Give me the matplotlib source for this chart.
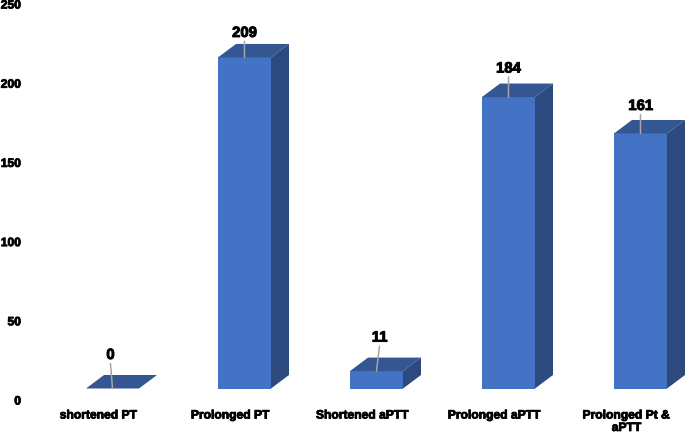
import matplotlib
matplotlib.use("Agg")
import matplotlib.pyplot as plt
import matplotlib.patches as mpatches
import matplotlib.transforms as mtrans
import matplotlib.patheffects as pe

FRONT = "#4472C4"
TOP = "#345693"
SIDE = "#2C4A7E"
LEADER = "#A6A6A6"

categories = ["shortened PT", "Prolonged PT", "Shortened aPTT", "Prolonged aPTT", "Prolonged Pt &\naPTT"]
values = [0, 209, 11, 184, 161]
y_ticks = [0, 50, 100, 150, 200, 250]
# label offset from top centre of the front face, in pixels
label_dx = [-2, 0, 3, 0, 0]
label_dy = [35, 26, 35, 30, 29]

plt.rcParams["font.family"] = ["Liberation Sans", "DejaVu Sans"]
W, H = 685, 435
PX = 72 / 100  # pixels to points at dpi 100

fig = plt.figure(figsize=(W / 100, H / 100), dpi=100)
left, base, top = 24, 389.5, -6.5
ax = fig.add_axes([left / W, (H - base) / H, (W - left) / W, (base - top) / H])
ax.set_ylim(0, 250)
ax.set_xlim(-(112.5 - left) / 132, (W - 112.5) / 132)
for spine in ax.spines.values():
    spine.set_visible(False)
ax.patch.set_visible(False)

width = 53 / 132
dx = 18 / 132
dy = 13.5 / (396 / 250)

bars = ax.bar(range(len(values)), values, width, color=FRONT, zorder=2)
for i, (bar, val) in enumerate(zip(bars, values)):
    x0 = bar.get_x()
    x1 = x0 + width
    ax.add_patch(mpatches.Polygon([(x0, val), (x1, val), (x1 + dx, val + dy), (x0 + dx, val + dy)],
                                  closed=True, color=TOP, lw=0, zorder=2))
    if val > 0:
        ax.add_patch(mpatches.Polygon([(x1, 0), (x1 + dx, dy), (x1 + dx, val + dy), (x1, val)],
                                      closed=True, color=SIDE, lw=0, zorder=2))
    ax.annotate(str(val), xy=(i, val), xytext=(label_dx[i] * PX, (label_dy[i] - 1.5) * PX),
                textcoords="offset points", ha="center", va="center",
                fontsize=10.7, fontweight="bold", color="black", zorder=4,
                path_effects=[pe.withStroke(linewidth=0.7, foreground="black")])
    ax.annotate("", xy=(i, val), xytext=(label_dx[i] * PX, (label_dy[i] - 10) * PX),
                textcoords="offset points", zorder=3,
                arrowprops=dict(arrowstyle="-", color=LEADER, lw=1.1, shrinkA=0, shrinkB=0))

ax.set_xticks(range(len(categories)))
ax.set_xticklabels(categories, fontsize=8.7, fontweight="bold", linespacing=1.05)
ax.set_yticks(y_ticks)
ax.tick_params(axis="both", length=0)
ax.tick_params(axis="x", pad=21 * PX)
ax.tick_params(axis="y", pad=3 * PX, labelsize=8.7)

x_shift = mtrans.ScaledTranslation(-14 * PX / 72, 0, fig.dpi_scale_trans)
y_shift = mtrans.ScaledTranslation(0, -11.5 * PX / 72, fig.dpi_scale_trans)
for lab in ax.get_xticklabels():
    lab.set_transform(lab.get_transform() + x_shift)
    lab.set_path_effects([pe.withStroke(linewidth=0.6, foreground="black")])
for lab in ax.get_yticklabels():
    lab.set_fontweight("bold")
    lab.set_transform(lab.get_transform() + y_shift)
    lab.set_path_effects([pe.withStroke(linewidth=0.6, foreground="black")])

fig.savefig("out.png", dpi=100)
